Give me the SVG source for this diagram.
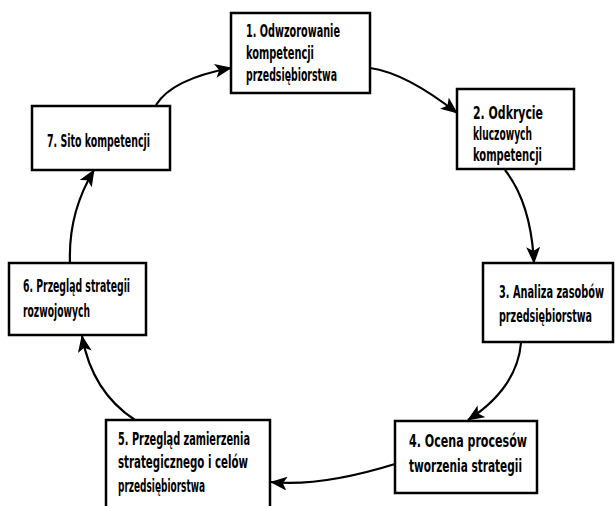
<svg xmlns="http://www.w3.org/2000/svg" width="616" height="506" viewBox="0 0 616 506">
<style>
.box{fill:#fff;stroke:#000;stroke-width:2.5}
.t{font-family:"DejaVu Sans Condensed","DejaVu Sans","Liberation Sans",sans-serif;font-weight:bold;font-size:17px;fill:#000}
.c{fill:none;stroke:#000;stroke-width:2.2}
</style>
<defs>
<marker id="ah" markerUnits="userSpaceOnUse" markerWidth="18" markerHeight="14" refX="16" refY="7" orient="auto">
<path d="M0,0 L17,7 L0,14 L4,7 Z" fill="#000"/>
</marker>
</defs>
<rect width="616" height="506" fill="#fff"/>
<g id="connectors">
<path class="c" d="M156,105 Q172,79 231,68" marker-end="url(#ah)"/>
<path class="c" d="M370,68 Q406,73 457,113" marker-end="url(#ah)"/>
<path class="c" d="M505,170 Q531,203 534,263" marker-end="url(#ah)"/>
<path class="c" d="M521,343 Q517,388 468,420" marker-end="url(#ah)"/>
<path class="c" d="M395,464 Q321,487 271,482" marker-end="url(#ah)"/>
<path class="c" d="M135,420 Q92,392 82,336" marker-end="url(#ah)"/>
<path class="c" d="M70,263 Q68,213 94,170" marker-end="url(#ah)"/>
</g>
<g id="node1">
<rect class="box" x="231" y="13" width="139" height="80"/>
<text class="t" x="246" y="37" textLength="94" lengthAdjust="spacingAndGlyphs">1. Odwzorowanie</text>
<text class="t" x="246" y="59" textLength="68" lengthAdjust="spacingAndGlyphs">kompetencji</text>
<text class="t" x="246" y="81" textLength="91" lengthAdjust="spacingAndGlyphs">przedsiębiorstwa</text>
</g>
<g id="node2">
<rect class="box" x="457" y="89" width="117" height="80"/>
<text class="t" x="473" y="119" textLength="70" lengthAdjust="spacingAndGlyphs">2. Odkrycie</text>
<text class="t" x="473" y="140" textLength="59" lengthAdjust="spacingAndGlyphs">kluczowych</text>
<text class="t" x="473" y="161" textLength="69" lengthAdjust="spacingAndGlyphs">kompetencji</text>
</g>
<g id="node3">
<rect class="box" x="483" y="263" width="130" height="79"/>
<text class="t" transform="translate(499 298) scale(0.7 1)" x="0" y="0" textLength="150" lengthAdjust="spacingAndGlyphs">3. Analiza zasobów</text>
<text class="t" transform="translate(499 322) scale(0.7 1)" x="0" y="0" textLength="133" lengthAdjust="spacingAndGlyphs">przedsiębiorstwa</text>
</g>
<g id="node4">
<rect class="box" x="395" y="421" width="142" height="72"/>
<text class="t" x="409" y="447" textLength="118" lengthAdjust="spacingAndGlyphs">4. Ocena procesów</text>
<text class="t" x="409" y="472" textLength="113" lengthAdjust="spacingAndGlyphs">tworzenia strategii</text>
</g>
<g id="node5">
<rect class="box" x="106" y="420" width="164" height="92"/>
<text class="t" x="118" y="445" textLength="132" lengthAdjust="spacingAndGlyphs">5. Przegląd zamierzenia</text>
<text class="t" x="118" y="468" textLength="130" lengthAdjust="spacingAndGlyphs">strategicznego i celów</text>
<text class="t" x="118" y="492" textLength="87" lengthAdjust="spacingAndGlyphs">przedsiębiorstwa</text>
</g>
<g id="node6">
<rect class="box" x="9" y="263" width="137" height="72"/>
<text class="t" x="23" y="292" textLength="107" lengthAdjust="spacingAndGlyphs">6. Przegląd strategii</text>
<text class="t" x="23" y="317" textLength="67" lengthAdjust="spacingAndGlyphs">rozwojowych</text>
</g>
<g id="node7">
<rect class="box" x="32" y="106" width="138" height="64"/>
<text class="t" x="47" y="147" textLength="103" lengthAdjust="spacingAndGlyphs">7. Sito kompetencji</text>
</g>
</svg>
